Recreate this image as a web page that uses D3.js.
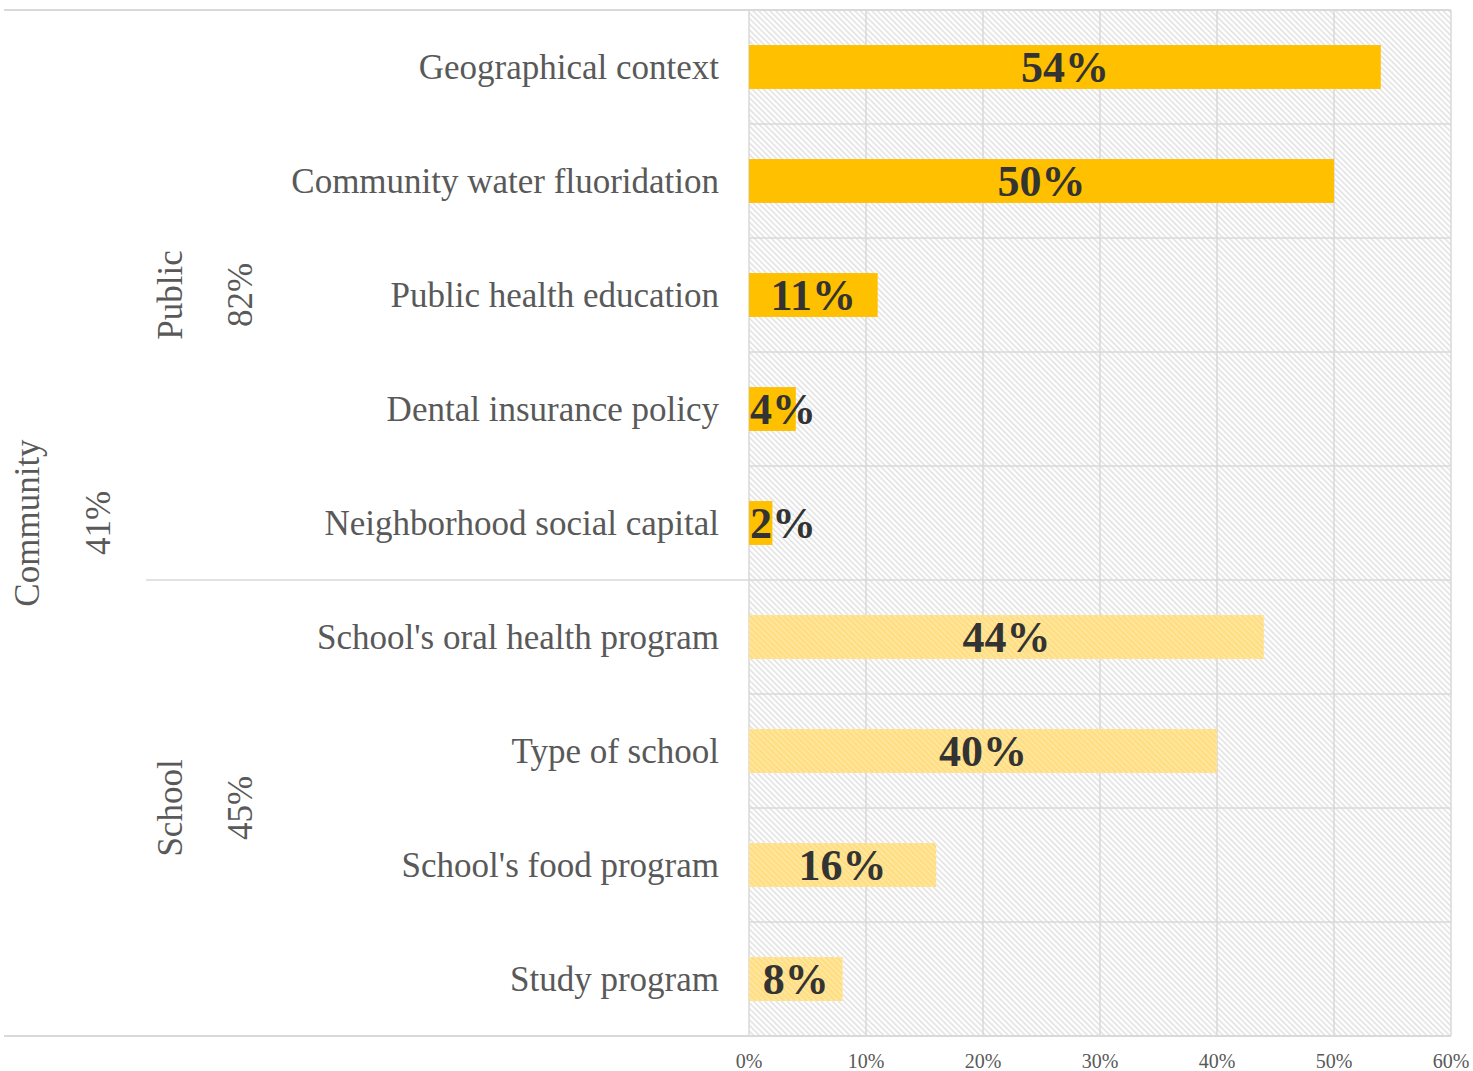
<!DOCTYPE html>
<html>
<head>
<meta charset="utf-8">
<script src="https://cdn.jsdelivr.net/npm/d3@7"></script>
<style>
  html, body { margin: 0; padding: 0; background: #fff; }
  svg { display: block; }
</style>
</head>
<body>
<svg id="chart" width="1473" height="1071"></svg>
<script>
// Factors and their shares, top to bottom
const categories = [
  "Geographical context",
  "Community water fluoridation",
  "Public health education",
  "Dental insurance policy",
  "Neighborhood social capital",
  "School's oral health program",
  "Type of school",
  "School's food program",
  "Study program"
];
const values = [54, 50, 11, 4, 2, 44, 40, 16, 8];
const groupOf = ["Public", "Public", "Public", "Public", "Public", "School", "School", "School", "School"];

// Sub-groups with their overall shares
const groups = ["Public", "School"];
const groupShares = [82, 45];
// Top-level level
const topLevel = "Community";
const topShare = 41;

const xTicks = [0, 10, 20, 30, 40, 50, 60];

const svg = d3.select("#chart");
const plot = { left: 749, right: 1451, top: 10, bottom: 1036 };

const x = d3.scaleLinear().domain([0, 60]).range([plot.left, plot.right]);
const y = d3.scaleBand().domain(categories).range([plot.top, plot.bottom]).paddingInner(0).paddingOuter(0);
const barH = y.bandwidth() * 0.385;

const serif = "'Liberation Serif', 'Times New Roman', serif";
const gridColor = "#d9d9d9";

// Hatch patterns (diagonal, top-left to bottom-right)
const defs = svg.append("defs");
const bgPat = defs.append("pattern")
  .attr("id", "bgHatch").attr("patternUnits", "userSpaceOnUse")
  .attr("width", 4).attr("height", 4)
  .attr("patternTransform", "rotate(-45)");
bgPat.append("rect").attr("width", 4).attr("height", 4).attr("fill", "#ffffff");
bgPat.append("rect").attr("x", 0).attr("y", 0).attr("width", 1.5).attr("height", 4).attr("fill", "#e0e0e0");

const schoolPat = defs.append("pattern")
  .attr("id", "schoolHatch").attr("patternUnits", "userSpaceOnUse")
  .attr("width", 4).attr("height", 4)
  .attr("patternTransform", "rotate(-45)");
schoolPat.append("rect").attr("width", 4).attr("height", 4).attr("fill", "#ffdd80");
schoolPat.append("rect").attr("x", 0).attr("y", 0).attr("width", 1.5).attr("height", 4).attr("fill", "#ffe9a6");

// Plot background
svg.append("rect")
  .attr("x", plot.left).attr("y", plot.top)
  .attr("width", plot.right - plot.left).attr("height", plot.bottom - plot.top)
  .attr("fill", "url(#bgHatch)");

// Vertical gridlines
svg.append("g").selectAll("line").data(xTicks).join("line")
  .attr("x1", d => x(d)).attr("x2", d => x(d))
  .attr("y1", plot.top).attr("y2", plot.bottom)
  .attr("stroke", gridColor).attr("stroke-width", 1.5);

// Horizontal row separators
const boundaries = categories.slice(1).map(c => y(c));
svg.append("g").selectAll("line").data(boundaries).join("line")
  .attr("x1", (d, i) => groupOf[i] !== groupOf[i + 1] ? 146 : plot.left)
  .attr("x2", plot.right)
  .attr("y1", d => d).attr("y2", d => d)
  .attr("stroke", gridColor).attr("stroke-width", 1.5);

// Outer top/bottom rules
[plot.top, plot.bottom].forEach(v => {
  svg.append("line")
    .attr("x1", 4).attr("x2", plot.right)
    .attr("y1", v).attr("y2", v)
    .attr("stroke", gridColor).attr("stroke-width", 2);
});

// Bars
svg.append("g").selectAll("rect").data(categories).join("rect")
  .attr("x", x(0))
  .attr("y", d => y(d) + (y.bandwidth() - barH) / 2)
  .attr("width", (d, i) => x(values[i]) - x(0))
  .attr("height", barH)
  .attr("fill", (d, i) => groupOf[i] === "Public" ? "#ffc000" : "url(#schoolHatch)");

// Value labels
const valLabels = svg.append("g").selectAll("text").data(categories).join("text")
  .attr("y", d => y(d) + y.bandwidth() / 2)
  .attr("dy", "0.35em")
  .attr("text-anchor", "middle")
  .attr("font-family", serif)
  .attr("font-weight", "bold")
  .attr("font-size", 44)
  .attr("fill", "#333333")
  .text((d, i) => values[i] + "%");
valLabels.attr("x", function (d, i) {
  const w = this.getComputedTextLength();
  const c = (x(0) + x(values[i])) / 2;
  return Math.max(c, x(0) + w / 2 + 1);
});

// Category labels
svg.append("g").selectAll("text").data(categories).join("text")
  .attr("x", plot.left - 30)
  .attr("y", d => y(d) + y.bandwidth() / 2)
  .attr("dy", "0.35em")
  .attr("text-anchor", "end")
  .attr("font-family", serif)
  .attr("font-size", 35)
  .attr("fill", "#595959")
  .text(d => d);

// X axis tick labels
svg.append("g").selectAll("text").data(xTicks).join("text")
  .attr("x", d => x(d))
  .attr("y", 1068)
  .attr("text-anchor", "middle")
  .attr("font-family", serif)
  .attr("font-size", 20)
  .attr("fill", "#595959")
  .text(d => d + "%");

// Rotated group labels
function vText(txt, bx, cy) {
  svg.append("text")
    .attr("transform", `translate(${bx},${cy}) rotate(-90)`)
    .attr("text-anchor", "middle")
    .attr("font-family", serif)
    .attr("font-size", 35)
    .attr("fill", "#595959")
    .text(txt);
}
groups.forEach((g, gi) => {
  const members = categories.filter((c, i) => groupOf[i] === g);
  const top = y(members[0]);
  const bottom = y(members[members.length - 1]) + y.bandwidth();
  const cy = (top + bottom) / 2;
  vText(g, 182, cy);
  vText(groupShares[gi] + "%", 252, cy);
});
const cyAll = (plot.top + plot.bottom) / 2;
vText(topLevel, 39, cyAll);
vText(topShare + "%", 110, cyAll);
</script>
</body>
</html>
